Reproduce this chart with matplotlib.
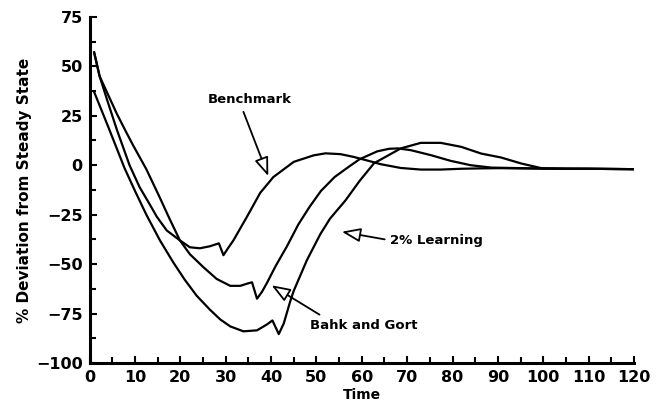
import numpy as np
import matplotlib
matplotlib.use("Agg")
import matplotlib.pyplot as plt
from matplotlib.ticker import MultipleLocator

# values
t_bench = [1, 2.2, 4, 6, 8.8, 11, 13.3, 14.8, 17, 19.9, 22.1, 24.3, 26.5, 28.5,
           29.5, 30.5, 31.7, 34.7, 37.6, 40.5, 45, 49.4, 52, 55.3, 58.2, 61,
           64.2, 68.6, 73, 77.4, 81.9, 86.3, 90, 95, 100, 110, 120]
v_bench = [57, 45, 32, 18, 0, -11, -20, -26, -33, -38, -41.5, -42, -41, -39.5,
           -45.5, -42, -38, -26, -14, -6, 1.7, 5, 6, 5.6, 4.2, 2.5,
           0.5, -1.4, -2.2, -2.2, -1.8, -1.6, -1.5, -1.6, -1.7, -1.8, -2]

t_learn = [1, 2.2, 4, 6, 8, 9.6, 12.5, 15.5, 17.5, 19.9, 22.1, 25.1, 28, 31,
           33.2, 35, 35.8, 36.9, 38, 39.1, 41, 43.5, 46, 48.5, 51, 54, 57,
           59.5, 63.4, 66, 68, 70.8, 75.2, 79.6, 84, 88.5, 95, 100, 110, 120]
v_learn = [57, 45, 36, 26, 17, 10, -2, -16.5, -26.5, -38, -45, -51.6, -57.5, -61,
           -61, -59.7, -59.2, -67.5, -64, -59.5, -51, -41, -30, -21, -13, -6, -1,
           3, 7, 8.3, 8.5, 7.6, 5.1, 2.2, 0, -1.2, -1.5, -1.7, -1.8, -2]

t_bahk = [1, 4, 7.7, 10, 12.5, 15.5, 18.4, 21, 23.6, 26.5, 28.8, 31,
          33.9, 36.9, 39.1, 40.3, 41.7, 42.8, 44.2, 45, 47.9, 50.9, 53, 56.4,
          59.5, 62.7, 68.6, 73, 77.4, 81.9, 86.3, 90.7, 95.1, 99.6, 105, 110, 120]
v_bahk = [37, 20, -1.5, -13, -25, -38, -49, -58, -66, -73, -78, -81.5,
          -84, -83.5, -80.5, -78.5, -85.4, -80, -69, -63.5, -48, -34.7, -27, -17.8,
          -8, 1, 8.5, 11.3, 11.3, 9.3, 5.9, 3.9, 0.9, -1.5, -1.8, -1.8, -2]

fig = plt.figure(figsize=(6.59, 4.12), dpi=100)
ax = fig.add_axes([0.136, 0.119, 0.826, 0.84])

for t, v in [(t_bench, v_bench), (t_learn, v_learn), (t_bahk, v_bahk)]:
    ax.plot(t, v, color='black', lw=1.6, solid_joinstyle='round')

ax.set_xlim(0, 120)
ax.set_ylim(-100, 75)
ax.xaxis.set_major_locator(MultipleLocator(10))
ax.xaxis.set_minor_locator(MultipleLocator(5))
ax.yaxis.set_major_locator(MultipleLocator(25))
ax.yaxis.set_minor_locator(MultipleLocator(12.5))
ax.tick_params(which='both', direction='in', width=1.5, labelsize=11.5, pad=5)
ax.tick_params(which='major', length=5)
ax.tick_params(which='minor', length=4)
for lab in ax.get_xticklabels() + ax.get_yticklabels():
    lab.set_fontweight('bold')

for s in ['top', 'right']:
    ax.spines[s].set_visible(False)
for s in ['left', 'bottom']:
    ax.spines[s].set_linewidth(2.2)

ax.set_xlabel('Time', fontsize=10, fontweight='bold', labelpad=2)
ax.set_ylabel('% Deviation from Steady State', fontsize=11, fontweight='bold', labelpad=3)

def arrow(rp):
    return dict(arrowstyle='-|>,head_length=1.2,head_width=0.45', fc='white',
                ec='black', lw=1.3, relpos=rp)

ax.annotate('Benchmark', xy=(39.6, -6.8), xytext=(35.3, 33), fontsize=9.5, fontweight='bold',
            ha='center', va='center', arrowprops=arrow((0.4, 0)))
ax.annotate('2% Learning', xy=(55, -33.4), xytext=(76.5, -38), fontsize=9.5, fontweight='bold',
            ha='center', va='center', arrowprops=arrow((0, 0.5)))
ax.annotate('Bahk and Gort', xy=(39.6, -60), xytext=(60.5, -81), fontsize=9.5, fontweight='bold',
            ha='center', va='center', arrowprops=arrow((0.15, 1)))

fig.savefig('out.png', dpi=100)
